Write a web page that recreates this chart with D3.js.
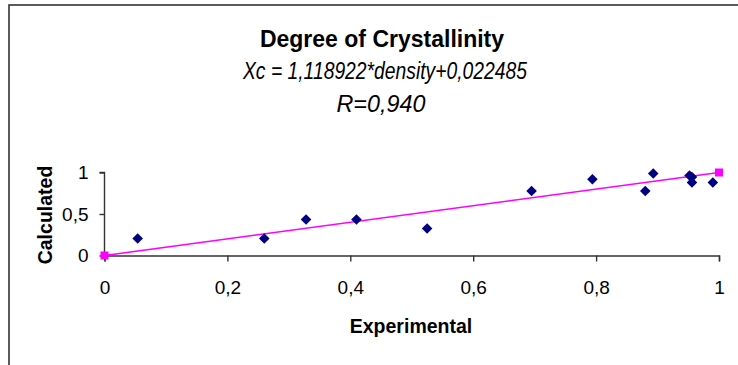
<!DOCTYPE html>
<html>
<head>
<meta charset="utf-8">
<script src="https://cdn.jsdelivr.net/npm/d3@7"></script>
<style>
  html, body { margin: 0; padding: 0; background: #fff; }
  svg { display: block; font-family: "Liberation Sans", Arial, sans-serif; }
</style>
</head>
<body>
<svg id="chart" width="738" height="365"></svg>
<script>
// Measured samples: experimental vs calculated crystallinity
const experimental = [0.054, 0.260, 0.328, 0.410, 0.525, 0.695, 0.794, 0.880, 0.893, 0.952, 0.956, 0.956, 0.990];
const calculated   = [0.205, 0.205, 0.434, 0.434, 0.325, 0.778, 0.919, 0.778, 0.988, 0.964, 0.945, 0.880, 0.880];

// Reference line Xc = Xexp (end points)
const lineX = [0, 1];
const lineY = [0, 1];

const xTicks = [0, 0.2, 0.4, 0.6, 0.8, 1];
const yTicks = [0, 0.5, 1];

const titleText = "Degree of Crystallinity";
const equationText = "Xc = 1,118922*density+0,022485";
const rText = "R=0,940";
const xLabel = "Experimental";
const yLabel = "Calculated";

const svg = d3.select("#chart");
const fmt = v => String(v).replace(".", ",");

// Outer chart frame
svg.append("rect")
  .attr("x", 9).attr("y", 5)
  .attr("width", 760).attr("height", 400)
  .attr("fill", "none").attr("stroke", "#333").attr("stroke-width", 1.6);

const x = d3.scaleLinear().domain([0, 1]).range([104.5, 719]);
const y = d3.scaleLinear().domain([0, 1]).range([255.5, 172.5]);

// Titles
svg.append("text").attr("x", 382).attr("y", 47)
  .attr("text-anchor", "middle").attr("font-size", 23).attr("font-weight", "bold")
  .attr("fill", "#000").text(titleText);
svg.append("text").attr("x", 385).attr("y", 78.5)
  .attr("text-anchor", "middle").attr("font-size", 23).attr("font-style", "italic")
  .attr("textLength", 284).attr("lengthAdjust", "spacingAndGlyphs")
  .attr("fill", "#000").text(equationText);
svg.append("text").attr("x", 381).attr("y", 112)
  .attr("text-anchor", "middle").attr("font-size", 23).attr("font-style", "italic")
  .attr("textLength", 89).attr("lengthAdjust", "spacingAndGlyphs")
  .attr("fill", "#000").text(rText);

// Axes
const xAxis = svg.append("g").attr("transform", `translate(0,${y(0)})`)
  .call(d3.axisBottom(x).tickValues(xTicks).tickFormat(fmt).tickSize(6).tickPadding(19));
const yAxis = svg.append("g").attr("transform", `translate(${x(0)},0)`)
  .call(d3.axisLeft(y).tickValues(yTicks).tickFormat(fmt).tickSize(5).tickPadding(11));

[xAxis, yAxis].forEach(g => {
  g.select(".domain").attr("stroke", "#333").attr("stroke-width", 1.4);
  g.selectAll(".tick line").attr("stroke", "#333").attr("stroke-width", 1.4);
  g.selectAll(".tick text").attr("font-size", 19).attr("fill", "#000")
    .attr("font-family", "'Liberation Sans', Arial, sans-serif");
});
yAxis.select(".domain").attr("d", `M-5,${y(1)}H0V${y(0)}`);
xAxis.selectAll(".tick text").attr("dy", "0.71em");

// Axis titles
svg.append("text").attr("x", 411).attr("y", 333)
  .attr("text-anchor", "middle").attr("font-size", 19.5).attr("font-weight", "bold")
  .attr("fill", "#000").text(xLabel);
svg.append("text").attr("transform", "translate(52,215) rotate(-90)")
  .attr("text-anchor", "middle").attr("font-size", 19.5).attr("font-weight", "bold")
  .attr("fill", "#000").text(yLabel);

// Reference line
const line = d3.line().x(d => x(d[0])).y(d => y(d[1]));
svg.append("path").datum(d3.zip(lineX, lineY))
  .attr("d", line).attr("fill", "none")
  .attr("stroke", "#FF00FF").attr("stroke-width", 1.6);

svg.selectAll("rect.endpt").data(d3.zip(lineX, lineY)).enter()
  .append("rect").attr("class", "endpt")
  .attr("x", d => x(d[0]) - 4).attr("y", d => y(d[1]) - 4)
  .attr("width", 8).attr("height", 8).attr("fill", "#FF00FF");

// Data points (diamonds)
svg.selectAll("path.pt").data(d3.zip(experimental, calculated)).enter()
  .append("path").attr("class", "pt")
  .attr("transform", d => `translate(${x(d[0])},${y(d[1])}) rotate(45)`)
  .attr("d", d3.symbol().type(d3.symbolSquare).size(56))
  .attr("fill", "#000080");
</script>
</body>
</html>
